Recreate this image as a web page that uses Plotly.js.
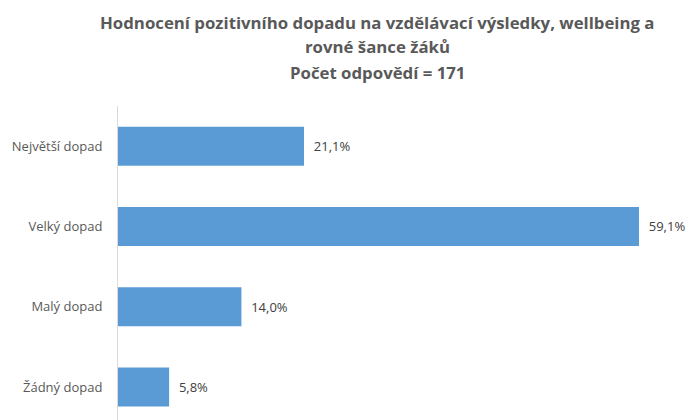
<!DOCTYPE html>
<html>
<head>
<meta charset="utf-8">
<script src="https://cdn.plot.ly/plotly-3.0.1.min.js"></script>
<style>html,body{margin:0;padding:0;background:#fff;}#chart{width:691px;height:420px;}</style>
</head>
<body>
<div id="chart"></div>
<script>
const categories = ["Největší dopad", "Velký dopad", "Malý dopad", "Žádný dopad"];
const values = [21.1, 59.1, 14.0, 5.8];
const valueLabels = ["21,1%", "59,1%", "14,0%", "5,8%"];
const titleLines = [
  "Hodnocení pozitivního dopadu na vzdělávací výsledky, wellbeing a",
  "rovné šance žáků",
  "Počet odpovědí = 171"
];

const font = "'Open Sans', 'Noto Sans', sans-serif";
const titleY = [1.2675, 1.1879, 1.1051];

const trace = {
  type: "bar",
  orientation: "h",
  x: values,
  y: categories,
  text: valueLabels.map(t => "  " + t),
  textposition: "outside",
  textfont: {family: font, size: 13, color: "#404040"},
  cliponaxis: false,
  marker: {color: "#5B9BD5", line: {width: 0}},
  hoverinfo: "none"
};

const layout = {
  width: 691,
  height: 420,
  margin: {l: 118, r: 0, t: 106, b: 0},
  paper_bgcolor: "#ffffff",
  plot_bgcolor: "#ffffff",
  bargap: 0.514,
  showlegend: false,
  font: {family: font, color: "#595959"},
  xaxis: {
    range: [0, 65],
    showgrid: false,
    zeroline: false,
    showticklabels: false,
    showline: false,
    ticks: ""
  },
  yaxis: {
    type: "category",
    range: [3.41, -0.5],
    showgrid: false,
    zeroline: false,
    showline: true,
    linecolor: "#d9d9d9",
    linewidth: 1,
    ticks: "",
    ticklabelstandoff: 12,
    tickfont: {family: font, size: 13, color: "#595959"}
  },
  annotations: titleLines.map((t, i) => ({
    text: "<b>" + t + "</b>",
    xref: "paper", yref: "paper",
    x: (377 - 118) / 573, y: titleY[i],
    xanchor: "center", yanchor: "middle",
    showarrow: false,
    font: {family: font, size: 16.8, color: "#595959"}
  }))
};

Plotly.newPlot("chart", [trace], layout, {staticPlot: true, displayModeBar: false});
</script>
</body>
</html>
